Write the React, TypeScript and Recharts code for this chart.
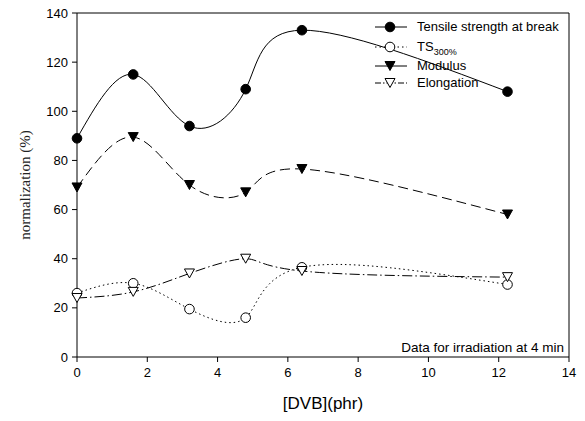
import React from 'react';
import {
  LineChart,
  Line,
  XAxis,
  YAxis,
  ReferenceLine,
} from 'recharts';

// DVB content (phr) and normalized properties (%)
const dvb = [0, 1.6, 3.2, 4.8, 6.4, 12.25];
const tensile = [89, 115, 94, 109, 133, 108];
const ts300 = [26, 30, 19.5, 16, 36.5, 29.5];
const modulus = [69, 89.5, 70, 67, 76.5, 58];
const elongation = [24, 26.5, 34, 40, 35, 32.5];

const xTicks = [0, 2, 4, 6, 8, 10, 12, 14];
const yTicks = [0, 20, 40, 60, 80, 100, 120, 140];

const data = dvb.map((x, i) => ({
  x,
  tensile: tensile[i],
  ts300: ts300[i],
  modulus: modulus[i],
  elongation: elongation[i],
}));

const sans = '"Liberation Sans", Arial, Helvetica, sans-serif';

function FilledCircle({ cx, cy, index }: any) {
  return <circle key={index} cx={cx} cy={cy} r={4.8} fill="#000" stroke="#000" />;
}

function OpenCircle({ cx, cy, index }: any) {
  return <circle key={index} cx={cx} cy={cy} r={4.8} fill="#fff" stroke="#000" strokeWidth={1} />;
}

function triPath(cx: number, cy: number, s: number) {
  const h = s * 0.9;
  return `M${cx - s / 2},${cy - h / 2} L${cx + s / 2},${cy - h / 2} L${cx},${cy + h / 2} Z`;
}

function FilledTri({ cx, cy, index }: any) {
  return <path key={index} d={triPath(cx, cy, 10)} fill="#000" stroke="#000" />;
}

function OpenTri({ cx, cy, index }: any) {
  return <path key={index} d={triPath(cx, cy, 10)} fill="#fff" stroke="#000" strokeWidth={1} />;
}

const legendItems = [
  { label: 'Tensile strength at break', dash: undefined, Marker: FilledCircle, h: 19 },
  { label: 'TS', sub: '300%', dash: '1.5 3', Marker: OpenCircle, h: 21 },
  { label: 'Modulus', dash: undefined, Marker: FilledTri, h: 17 },
  { label: 'Elongation', dash: '6 2 1.5 2', Marker: OpenTri, h: 18 },
];

function ChartLegend() {
  return (
    <div
      style={{
        position: 'absolute',
        left: 375,
        top: 17,
        fontFamily: sans,
        fontSize: 13,
        color: '#000',
      }}
    >
      {legendItems.map((it, i) => (
        <div key={i} style={{ display: 'flex', alignItems: 'center', height: it.h }}>
          <svg width={34} height={12} style={{ marginRight: 8 }}>
            <line x1={0} y1={6} x2={32} y2={6} stroke="#000" strokeDasharray={it.dash} />
            <it.Marker cx={15} cy={6} index={0} />
          </svg>
          <span style={{ lineHeight: '14px' }}>
            {it.label}
            {it.sub && <sub style={{ fontSize: 9, lineHeight: 0 }}>{it.sub}</sub>}
          </span>
        </div>
      ))}
    </div>
  );
}

export default function App() {
  return (
    <div style={{ position: 'relative', width: 585, height: 421, margin: -8, background: '#fff' }}>
      <LineChart
        width={585}
        height={421}
        data={data}
        margin={{ top: 13, right: 16, bottom: 0, left: 17 }}
      >
        <XAxis
          dataKey="x"
          type="number"
          domain={[0, 14]}
          ticks={xTicks}
          tickSize={5}
          stroke="#000"
          height={64}
          interval={0}
          tick={{ fill: '#000', fontSize: 13, fontFamily: sans }}
          tickMargin={6}
          label={{
            value: '[DVB](phr)',
            position: 'insideBottom',
            offset: 12,
            fill: '#000',
            fontSize: 17,
            fontFamily: sans,
          }}
        />
        <YAxis
          type="number"
          domain={[0, 140]}
          ticks={yTicks}
          tickSize={5}
          width={60}
          stroke="#000"
          interval={0}
          tick={{ fill: '#000', fontSize: 13, fontFamily: sans }}
          tickMargin={4}
          label={{
            value: 'normalization (%)',
            angle: -90,
            position: 'insideLeft',
            offset: 0,
            dx: 8,
            style: { textAnchor: 'middle' },
            fill: '#222',
            fontSize: 15,
            fontFamily: '"Liberation Serif", "Times New Roman", serif',
          }}
        />
        <ReferenceLine y={140} stroke="#000" />
        <ReferenceLine x={14} stroke="#000" />
        <ReferenceLine
          y={0}
          stroke="none"
          label={{
            value: 'Data for irradiation at 4 min',
            position: 'insideBottomRight',
            offset: 5,
            fill: '#000',
            fontSize: 13.5,
            fontFamily: sans,
          }}
        />
        <Line
          dataKey="tensile"
          type="natural"
          stroke="#000"
          strokeWidth={1}
          dot={FilledCircle}
          activeDot={false}
          isAnimationActive={false}
        />
        <Line
          dataKey="ts300"
          type="natural"
          stroke="#000"
          strokeWidth={1}
          strokeDasharray="1.5 3"
          dot={OpenCircle}
          activeDot={false}
          isAnimationActive={false}
        />
        <Line
          dataKey="modulus"
          type="natural"
          stroke="#000"
          strokeWidth={1}
          strokeDasharray="10 5"
          dot={FilledTri}
          activeDot={false}
          isAnimationActive={false}
        />
        <Line
          dataKey="elongation"
          type="natural"
          stroke="#000"
          strokeWidth={1}
          strokeDasharray="10 3 1.5 3"
          dot={OpenTri}
          activeDot={false}
          isAnimationActive={false}
        />
      </LineChart>
      <ChartLegend />
    </div>
  );
}
